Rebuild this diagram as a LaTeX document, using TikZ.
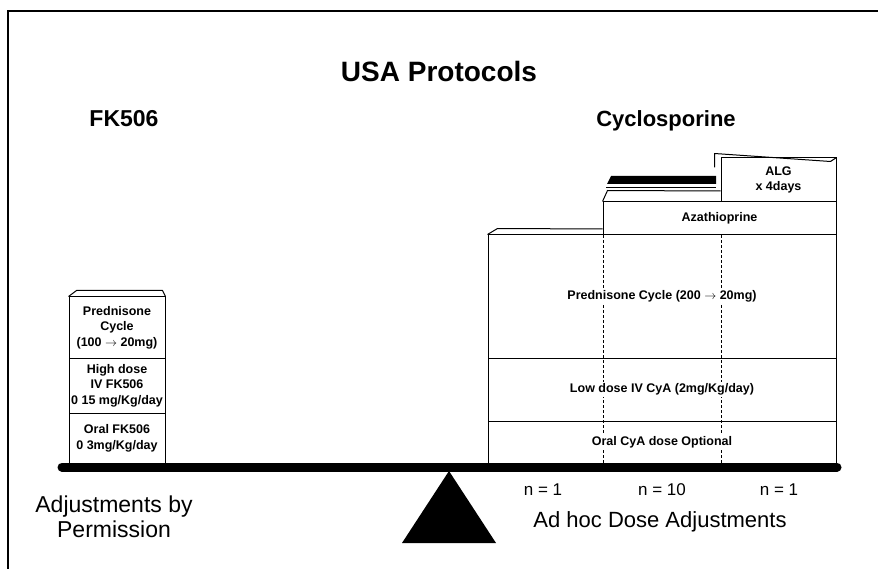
\documentclass[tikz,border=0pt]{standalone}
\usepackage{fontspec}
\setmainfont{Liberation Sans}
\usepackage{amsmath}
\usetikzlibrary{positioning}

\begin{document}
\begin{tikzpicture}[
    x=1pt, y=-1pt,
    layer/.style={draw, line width=1pt, inner sep=0pt, align=center,
      font=\fontsize{12.5}{15.5}\selectfont\bfseries},
    bg/.style={fill=white, inner sep=1.5pt, font=\fontsize{12.5}{15.5}\selectfont\bfseries},
    lip/.style={line width=1pt, line join=round},
    split/.style={thin, densely dashed}
]
\useasboundingbox (0,0) rectangle (878,569);

% frame (top and left only)
\draw[line width=1.4pt] (878,11) -- (8,11) -- (8,569);

% headings
\node[font=\fontsize{28}{32}\selectfont\bfseries] (title) at (439,71) {USA Protocols};
\node[font=\fontsize{23}{27}\selectfont\bfseries] (fk) at (124,119) {FK506};
\node[font=\fontsize{22}{26}\selectfont\bfseries] (cyclo) at (666,121) {Cyclosporine};

% FK506 stack
\node[layer, minimum width=96pt, minimum height=51pt] (loral) at (117,438.5)
  {Oral FK506\\0 3mg/Kg/day};
\node[layer, minimum width=96pt, minimum height=55pt] (lhigh) at (117,385.5)
  {High dose\\IV FK506\\0 15 mg/Kg/day};
\node[layer, minimum width=96pt, minimum height=61pt] (lpred) at (117,327.5)
  {Prednisone\\Cycle\\(100 $\rightarrow$ 20mg)};
\draw[lip] (lpred.north west) -- ++(8,-6) -- ([xshift=-3pt,yshift=6pt]lpred.north east) -- (lpred.north east);

% column splits (behind the texts)
\coordinate (c1) at (603,235);
\coordinate (c1b) at (603,463);
\coordinate (c2) at (721,235);
\coordinate (c2b) at (721,463);
\draw[split] (c1) -- (c1b);
\draw[split] (c2) -- (c2b);

% Cyclosporine stack
\node[layer, minimum width=348pt, minimum height=43pt,
  label={[bg]center:Oral CyA dose Optional}] (roral) at (662,442.5) {};
\node[layer, minimum width=348pt, minimum height=63pt,
  label={[bg]center:Low dose IV CyA (2mg/Kg/day)}] (rlow) at (662,389.5) {};
\node[layer, minimum width=348pt, minimum height=123pt,
  label={[bg]center:Prednisone Cycle (200 $\rightarrow$ 20mg)}] (rpred) at (662,296.5) {};
\node[layer, minimum width=233pt, minimum height=33pt] (raza) at (719.5,218.5)
  {Azathioprine};
\node[layer, minimum width=115pt, minimum height=44pt] (ralg) at (778.5,180)
  {ALG\\x 4days};

% lips of the columns
\draw[lip] (rpred.north west) -- ++(10,-6) -- (raza.north west |- 0,229);
\draw[lip] (raza.north west) -- ++(5,-11) -- (ralg.west |- 0,191);
\draw[line width=0.6pt] (606,187) -- (716,187);
\fill (607,184) -- (611,176) -- (716,176) -- (716,184) -- cycle;
\draw[lip] ([xshift=-6pt]ralg.north west) ++(0,10) -- ++(0,-14) -- ([xshift=-6pt,yshift=-4pt]ralg.north east) -- (ralg.north east);

% beam and fulcrum
\coordinate (bl) at (62,467);
\coordinate (br) at (837,467);
\draw[line width=9pt, line cap=round] (bl) -- (br);
\coordinate (apex) at (449,471);
\fill (apex) -- (402,543) -- (496,543) -- cycle;

% counts
\node[font=\fontsize{17}{20}\selectfont] (n1) at (543,490) {n = 1};
\node[font=\fontsize{17}{20}\selectfont] (n2) at (662,490) {n = 10};
\node[font=\fontsize{17}{20}\selectfont] (n3) at (779,490) {n = 1};

% bottom captions
\node[font=\fontsize{23}{25}\selectfont, align=center] (adjl) at (114,517)
  {Adjustments by\\Permission};
\node[font=\fontsize{22}{26}\selectfont] (adjr) at (660,522) {Ad hoc Dose Adjustments};

\end{tikzpicture}
\end{document}
